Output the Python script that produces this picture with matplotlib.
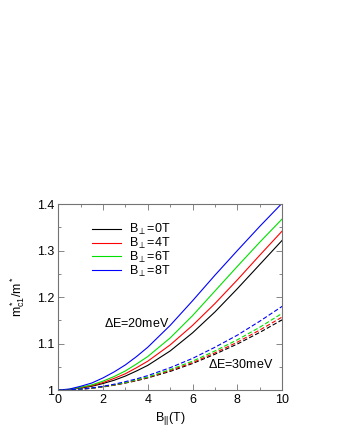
import matplotlib
matplotlib.use("Agg")
import matplotlib.pyplot as plt
from matplotlib.ticker import MultipleLocator

plt.rcParams['font.family'] = ['Liberation Sans', 'DejaVu Sans']
plt.rcParams['mathtext.fontset'] = 'custom'
plt.rcParams['mathtext.rm'] = 'Liberation Sans'
plt.rcParams['mathtext.it'] = 'Liberation Sans'

# parallel field B|| (T)
b_par = [0, 0.5, 1, 1.5, 2, 2.5, 3, 3.5, 4, 5, 6, 7, 8, 9, 10]

# Delta E = 20 meV (solid)
m20_0T = [1.0, 1.001, 1.004, 1.008, 1.014, 1.021, 1.030, 1.041, 1.053, 1.084, 1.123, 1.168, 1.218, 1.270, 1.322]
m20_4T = [1.0, 1.0012, 1.005, 1.0095, 1.016, 1.025, 1.035, 1.048, 1.062, 1.097, 1.139, 1.186, 1.237, 1.290, 1.342]
m20_6T = [1.0, 1.0015, 1.006, 1.011, 1.019, 1.029, 1.041, 1.056, 1.072, 1.112, 1.160, 1.213, 1.266, 1.318, 1.368]
m20_8T = [1.0, 1.002, 1.008, 1.015, 1.026, 1.039, 1.054, 1.072, 1.092, 1.139, 1.192, 1.247, 1.300, 1.352, 1.402]

# Delta E = 30 meV (dashed)
m30_0T = [1.0, 1.0004, 1.0017, 1.0037, 1.0066, 1.0103, 1.015, 1.020, 1.026, 1.040, 1.057, 1.077, 1.099, 1.124, 1.151]
m30_4T = [1.0, 1.0005, 1.0018, 1.0039, 1.007, 1.0108, 1.0155, 1.021, 1.027, 1.042, 1.059, 1.080, 1.103, 1.129, 1.157]
m30_6T = [1.0, 1.0005, 1.0019, 1.0041, 1.0073, 1.0113, 1.016, 1.022, 1.028, 1.044, 1.062, 1.084, 1.108, 1.135, 1.165]
m30_8T = [1.0, 1.0005, 1.002, 1.0045, 1.008, 1.0125, 1.018, 1.024, 1.031, 1.048, 1.068, 1.092, 1.118, 1.148, 1.180]

labels = [r'B$_{\perp}$=0T', r'B$_{\perp}$=4T', r'B$_{\perp}$=6T', r'B$_{\perp}$=8T']
colors = ['black', '#ff0000', '#00e000', '#0000ff']

fig = plt.figure(figsize=(3.4, 4.4), dpi=100)
ax = fig.add_axes([0.171, 0.1136, 0.659, 0.4227])

for y, c, lab in zip([m20_0T, m20_4T, m20_6T, m20_8T], colors, labels):
    ax.plot(b_par, y, color=c, lw=0.8, label=lab)
for y, c in zip([m30_0T, m30_4T, m30_6T, m30_8T], colors):
    ax.plot(b_par, y, color=c, lw=0.8, dashes=(4, 2))

ax.set_xlim(0, 10)
ax.set_ylim(1, 1.4)
ax.xaxis.set_major_locator(MultipleLocator(2))
ax.xaxis.set_minor_locator(MultipleLocator(1))
ax.yaxis.set_minor_locator(MultipleLocator(0.05))
ax.set_yticks([1, 1.1, 1.2, 1.3, 1.4])
ax.set_yticklabels(['1', '1.1', '1.2', '1.3', '1.4'])
ax.tick_params(which='both', direction='in', top=True, right=True,
               labelsize=9, color='0.45', pad=3)
ax.tick_params(which='major', length=4, width=0.6)
ax.tick_params(which='minor', length=2, width=0.6)
for s in ax.spines.values():
    s.set_color('0.45')
    s.set_linewidth(0.8)

ax.set_xlabel(r'B$_{||}$(T)', fontsize=9, labelpad=3)
ax.set_ylabel(r'm$^*_{c1}$/m$^*$', fontsize=9, labelpad=7)

ax.text(2.05, 1.144, r'$\Delta$E=20meV', fontsize=9, va='center')
ax.text(6.7, 1.055, r'$\Delta$E=30meV', fontsize=9, va='center')

ax.legend(loc='upper left', bbox_to_anchor=(0.13, 0.93), frameon=False,
          fontsize=9, handlelength=2.3, handletextpad=0.6, labelspacing=-0.1,
          borderaxespad=0)

fig.savefig('out.png', dpi=100)
